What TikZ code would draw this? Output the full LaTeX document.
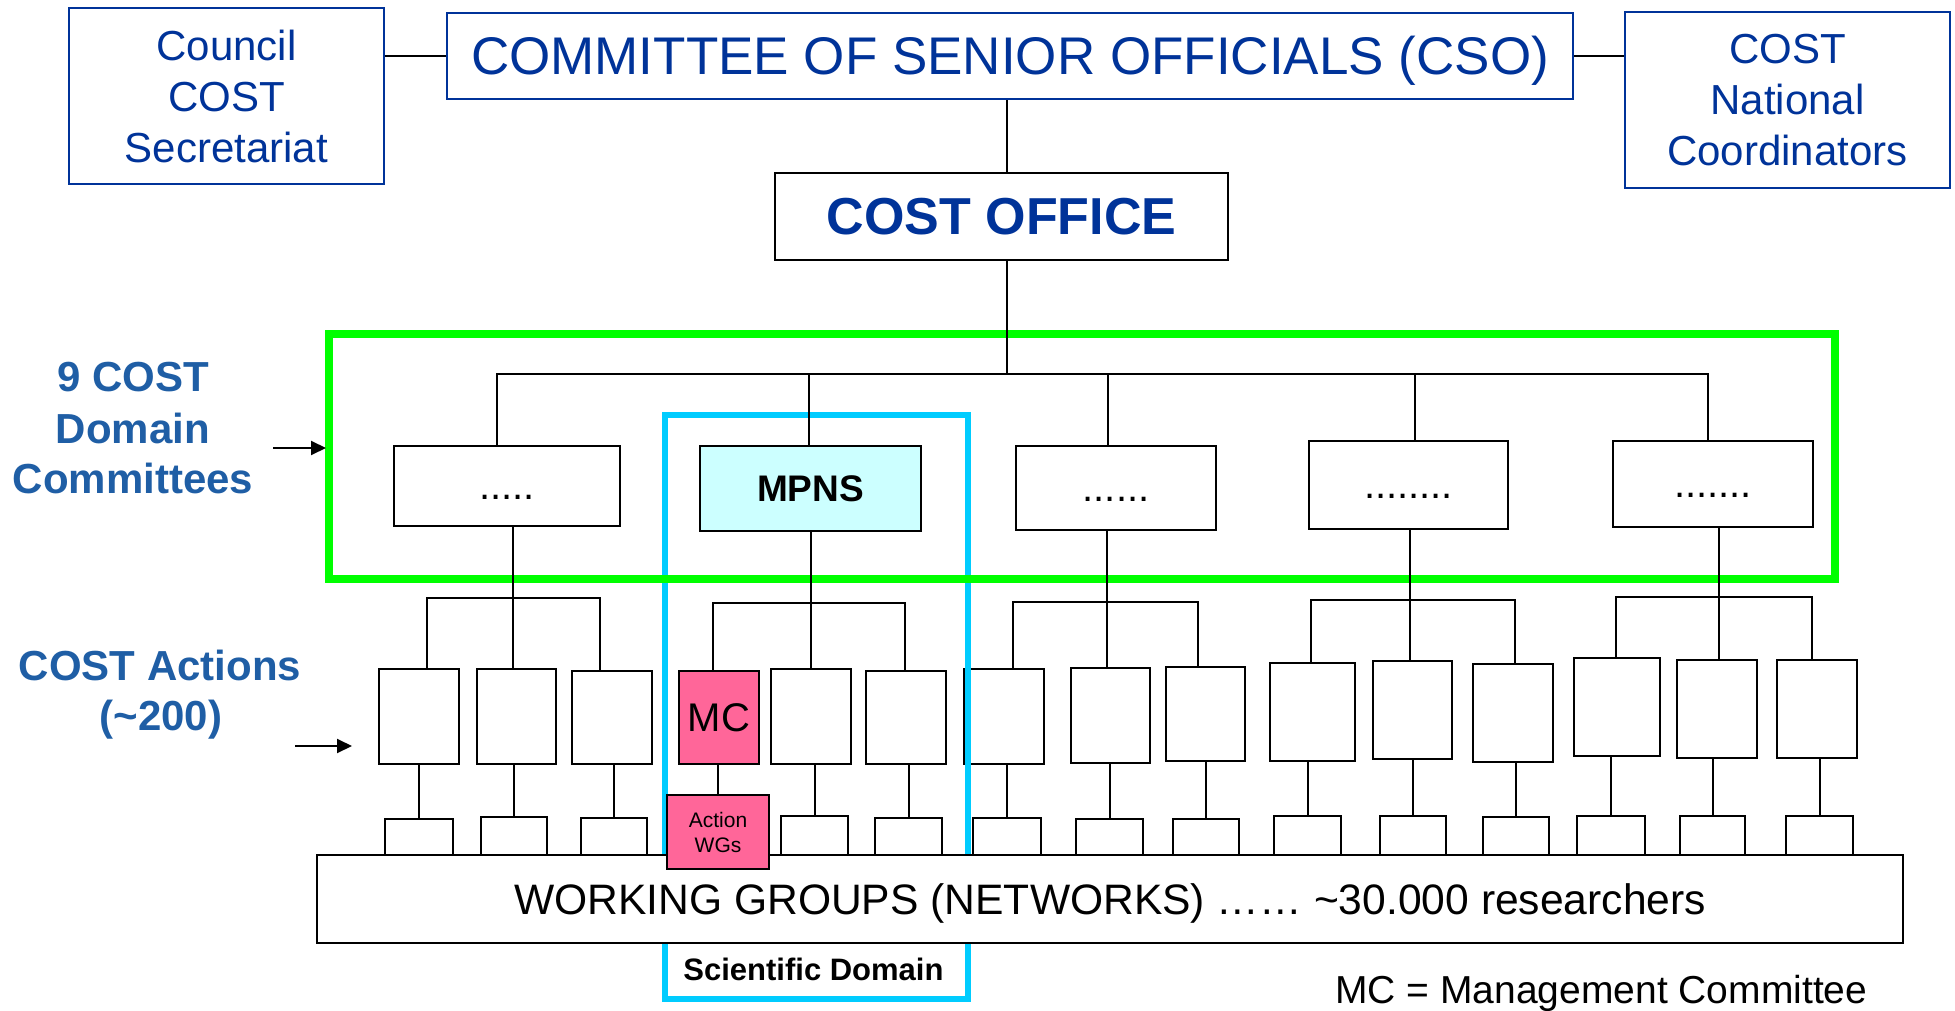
\documentclass[tikz,border=0pt]{standalone}
\usepackage{fontspec}
\setmainfont{Liberation Sans}
\usetikzlibrary{arrows.meta}
\definecolor{dkblue}{RGB}{0,51,153}
\definecolor{lblue}{RGB}{31,94,165}
\definecolor{grn}{RGB}{0,255,0}
\definecolor{cyn}{RGB}{0,204,255}
\definecolor{mpnsfill}{RGB}{204,255,255}
\definecolor{pinkfill}{RGB}{255,102,153}
\newcommand\fsz[2]{\fontsize{#1}{#2}\selectfont}
\begin{document}
\begin{tikzpicture}[x=1pt,y=-1pt,
  sz/.style 2 args={minimum width=#1pt,minimum height=#2pt},
  bluebox/.style={draw=dkblue,line width=2.5pt,fill=white,inner sep=0pt,text=dkblue,align=center},
  blackbox/.style={draw=black,line width=2.5pt,fill=white,inner sep=0pt,align=center},
  dotbox/.style={blackbox,font=\fsz{40}{48},text height=26pt,text depth=0pt},
  pinkbox/.style={blackbox,fill=pinkfill},
  conn/.style={draw=black,line width=2pt},
  lab/.style={text=lblue,font=\bfseries\fsz{42}{50},anchor=base,inner sep=0pt},
  arr/.style={conn,-{Triangle[length=15pt,width=14pt]}}
]
\useasboundingbox (0,0) rectangle (1955,1011);

% action boxes
\node[blackbox,sz={80}{95}] (A1) at (419,716.5) {};
\node[blackbox,sz={79}{95}] (A2) at (516.5,716.5) {};
\node[blackbox,sz={80}{93}] (A3) at (612,717.5) {};
\node[pinkbox,sz={80}{93},font=\fsz{40}{48}] (MC) at (719,717.5) {MC};
\node[blackbox,sz={80}{95}] (A5) at (811,716.5) {};
\node[blackbox,sz={80}{93}] (A6) at (906,717.5) {};
\node[blackbox,sz={80}{95}] (A7) at (1004,716.5) {};
\node[blackbox,sz={79}{95}] (A8) at (1110.5,715.5) {};
\node[blackbox,sz={79}{94}] (A9) at (1205.5,714) {};
\node[blackbox,sz={85}{98}] (A10) at (1312.5,712) {};
\node[blackbox,sz={79}{98}] (A11) at (1412.5,710) {};
\node[blackbox,sz={80}{98}] (A12) at (1513,713) {};
\node[blackbox,sz={86}{98}] (A13) at (1617,707) {};
\node[blackbox,sz={80}{98}] (A14) at (1717,709) {};
\node[blackbox,sz={80}{98}] (A15) at (1817,709) {};

% working group tabs
\node[blackbox,sz={68}{36}] (W1) at (419,837) {};
\node[blackbox,sz={66}{38}] (W2) at (514,836) {};
\node[blackbox,sz={66}{37}] (W3) at (614,836.5) {};
\node[blackbox,sz={67}{39}] (W5) at (814.5,835.5) {};
\node[blackbox,sz={67}{37}] (W6) at (908.5,836.5) {};
\node[blackbox,sz={68}{37}] (W7) at (1007,836.5) {};
\node[blackbox,sz={67}{36}] (W8) at (1109.5,837) {};
\node[blackbox,sz={66}{36}] (W9) at (1206,837) {};
\node[blackbox,sz={67}{39}] (W10) at (1307.5,835.5) {};
\node[blackbox,sz={66}{39}] (W11) at (1413,835.5) {};
\node[blackbox,sz={66}{38}] (W12) at (1516,836) {};
\node[blackbox,sz={68}{39}] (W13) at (1611,835.5) {};
\node[blackbox,sz={65}{39}] (W14) at (1712.5,835.5) {};
\node[blackbox,sz={67}{39}] (W15) at (1819.5,835.5) {};

% scientific domain frame
\node[draw=cyn,line width=6.5pt,sz={303}{584},inner sep=0pt] (cyan) at (816.5,707) {};

% working groups bar
\node[blackbox,sz={1586}{88},font=\fsz{42.6}{50},text height=30pt,text depth=0pt] (WG) at (1110,899)
  {WORKING GROUPS (NETWORKS) …… \textasciitilde30.000 researchers};
\node[pinkbox,sz={102}{74},font=\fsz{21}{25}] (AWG) at (718,832) {Action\\WGs};

% domain committees frame
\node[draw=grn,line width=7.5pt,sz={1506}{245},inner sep=0pt] (green) at (1082,456.5) {};

% top boxes
\node[bluebox,sz={315}{176},font=\fsz{42}{51}] (Council) at (226.5,96) {Council\\COST\\Secretariat};
\node[bluebox,sz={1126}{86},font=\fsz{53}{60},text height=38pt,text depth=0pt] (CSO) at (1010,56)
  {COMMITTEE OF SENIOR OFFICIALS (CSO)};
\node[bluebox,sz={325}{176},font=\fsz{42}{51}] (NC) at (1787.5,100) {COST\\National\\Coordinators};
\node[blackbox,sz={453}{87},text=dkblue,font=\bfseries\fsz{52}{60}] (Office) at (1001.5,216.5) {COST OFFICE};

% connectors top
\draw[conn] (Council.east |- CSO.west) -- (CSO.west);
\draw[conn] (CSO.east) -- (CSO.east -| NC.west);
\coordinate (trunk) at (1007,374);
\draw[conn] (CSO.south -| trunk) -- (Office.north -| trunk);
\draw[conn] (Office.south -| trunk) -- (trunk);

% domain committees
\node[dotbox,sz={226}{80}] (D1) at (507,486) {.....};
\node[blackbox,sz={221}{85},fill=mpnsfill,font=\bfseries\fsz{37}{44}] (D2) at (810.5,488.5) {MPNS};
\node[dotbox,sz={200}{84}] (D3) at (1116,488) {......};
\node[dotbox,sz={199}{88}] (D4) at (1408.5,485) {........};
\node[dotbox,sz={200}{86}] (D5) at (1713,484) {.......};

\coordinate (busL) at (497,374);
\coordinate (busR) at (1708,374);
\draw[conn] (D1.north -| busL) -- (busL) -- (busR) -- (D5.north -| busR);
\coordinate (t2) at (809,374); \draw[conn] (t2) -- (D2.north -| t2);
\coordinate (t3) at (1108,374); \draw[conn] (t3) -- (D3.north -| t3);
\coordinate (t4) at (1415,374); \draw[conn] (t4) -- (D4.north -| t4);

% groups of actions
\coordinate (g1) at (513,598); \coordinate (g1l) at (427,598); \coordinate (g1r) at (600,598);
\draw[conn] (D1.south -| g1) -- (g1);
\draw[conn] (A1.north -| g1l) -- (g1l) -- (g1r) -- (A3.north -| g1r);
\draw[conn] (g1) -- (A2.north -| g1);

\coordinate (g2) at (811,603); \coordinate (g2l) at (713,603); \coordinate (g2r) at (905,603);
\draw[conn] (D2.south -| g2) -- (g2);
\draw[conn] (MC.north -| g2l) -- (g2l) -- (g2r) -- (A6.north -| g2r);
\draw[conn] (g2) -- (A5.north -| g2);

\coordinate (g3) at (1107,602); \coordinate (g3l) at (1013,602); \coordinate (g3r) at (1198,602);
\draw[conn] (D3.south -| g3) -- (g3);
\draw[conn] (A7.north -| g3l) -- (g3l) -- (g3r) -- (A9.north -| g3r);
\draw[conn] (g3) -- (A8.north -| g3);

\coordinate (g4) at (1410,600); \coordinate (g4l) at (1311,600); \coordinate (g4r) at (1515,600);
\draw[conn] (D4.south -| g4) -- (g4);
\draw[conn] (A10.north -| g4l) -- (g4l) -- (g4r) -- (A12.north -| g4r);
\draw[conn] (g4) -- (A11.north -| g4);

\coordinate (g5) at (1719,597); \coordinate (g5l) at (1616,597); \coordinate (g5r) at (1812,597);
\draw[conn] (D5.south -| g5) -- (g5);
\draw[conn] (A13.north -| g5l) -- (g5l) -- (g5r) -- (A15.north -| g5r);
\draw[conn] (g5) -- (A14.north -| g5);

% actions to working groups
\foreach \a/\w in {A1/W1,A2/W2,A3/W3,A5/W5,A6/W6,A7/W7,A8/W8,A9/W9,A10/W10,A11/W11,A12/W12,A13/W13,A14/W14,A15/W15}
  \draw[conn] (\w.north) -- (\w.north |- \a.south);
\draw[conn] (AWG.north) -- (AWG.north |- MC.south);

% labels
\node[lab] (dc1) at (133,391) {9 COST};
\node[lab] (dc2) at (133,443) {Domain};
\node[lab] (dc3) at (133,493) {Committees};
\node[lab] (ca1) at (160,680) {COST Actions};
\node[lab] (ca2) at (161,730) {(\textasciitilde200)};
\coordinate (ar1s) at (273,448); \coordinate (ar1e) at (326,448);
\draw[arr] (ar1s) -- (ar1e);
\coordinate (ar2s) at (295,746); \coordinate (ar2e) at (352,746);
\draw[arr] (ar2s) -- (ar2e);

\node[anchor=base,inner sep=0pt,font=\bfseries\fsz{31}{36}] (sci) at (813.5,980) {Scientific Domain};
\node[anchor=base west,inner sep=0pt,font=\fsz{39}{46}] (legend) at (1335,1003) {MC = Management Committee};
\end{tikzpicture}
\end{document}
